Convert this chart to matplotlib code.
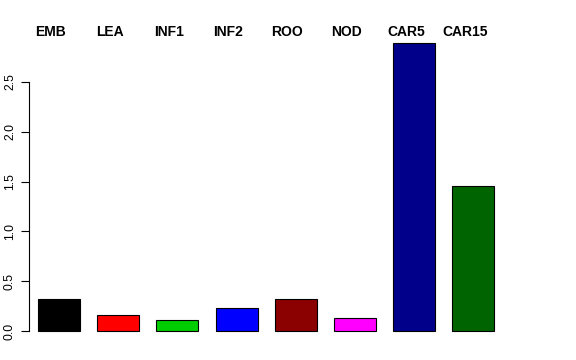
import numpy as np
import matplotlib.pyplot as plt

samples = ['EMB', 'LEA', 'INF1', 'INF2', 'ROO', 'NOD', 'CAR5', 'CAR15']
values = [0.32, 0.16, 0.11, 0.23, 0.32, 0.13, 2.89, 1.46]
colors = ['black', 'red', '#00cd00', 'blue', '#8b0000', 'magenta', '#00008b', '#006400']
yticks = [0.0, 0.5, 1.0, 1.5, 2.0, 2.5]

plt.rcParams['font.family'] = ['Liberation Sans', 'DejaVu Sans']

fig = plt.figure(figsize=(5.76, 3.6), dpi=100)
# plot region in pixels: left 29, right 503, top 31.6, bottom 342.5
ax = fig.add_axes([29 / 576, (360 - 342.5) / 360, 474 / 576, (342.5 - 31.6) / 360])

x = np.arange(len(samples))
ax.bar(x, values, width=0.71, color=colors, edgecolor='black', linewidth=0.8)

ax.set_xlim(-0.506, 7.5)
ax.set_ylim(-0.1156, 3.0056)

for i, name in enumerate(samples):
    ax.text(i - 0.14, 1.0, name, transform=ax.get_xaxis_transform(),
            ha='center', va='center', fontsize=10, fontweight='bold')

ax.set_yticks(yticks)
ax.set_yticklabels(['%.1f' % v for v in yticks], rotation=90, va='center', fontsize=8.8)
ax.tick_params(axis='y', length=5.8, width=0.8, pad=3.6)
ax.set_xticks([])

for s in ['top', 'right', 'bottom']:
    ax.spines[s].set_visible(False)
ax.spines['left'].set_bounds(0, 2.5)
ax.spines['left'].set_linewidth(0.8)

fig.savefig('out.png', dpi=100)
